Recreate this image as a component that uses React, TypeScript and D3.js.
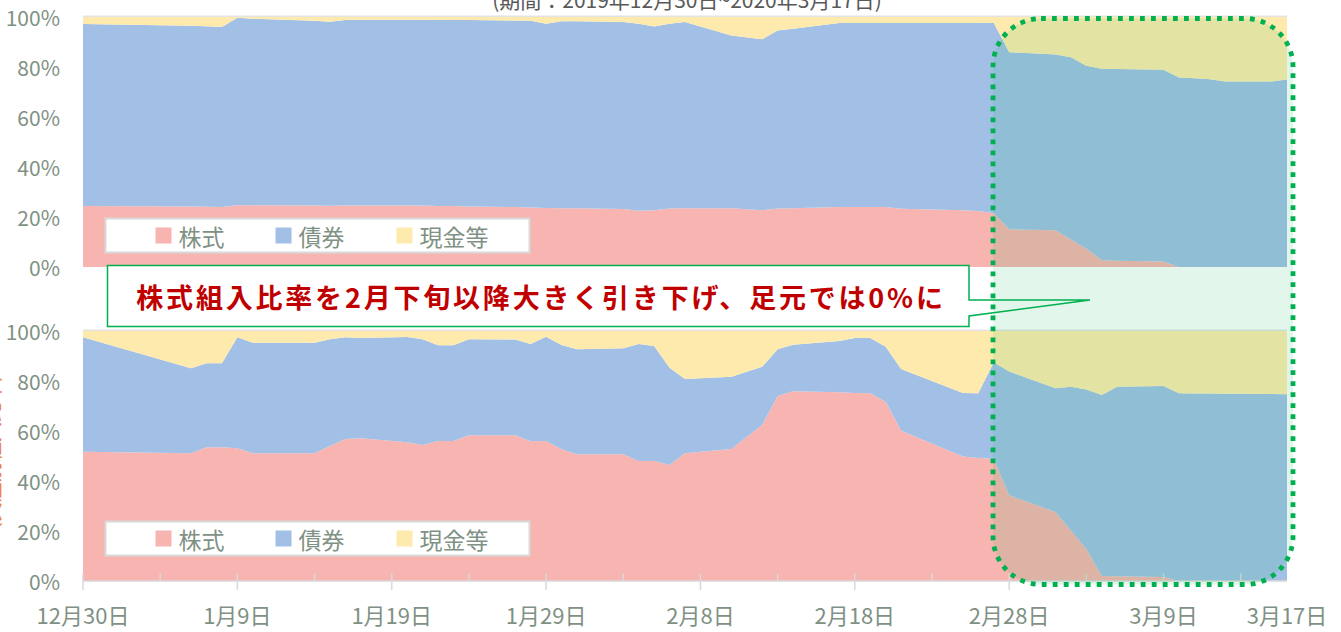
import * as React from "react";
import * as d3 from "d3";

// 営業日（データ時点）
const DATES = [
  "2019-12-30", "2020-01-06", "2020-01-07", "2020-01-08", "2020-01-09", "2020-01-10",
  "2020-01-14", "2020-01-15", "2020-01-16", "2020-01-17", "2020-01-20", "2020-01-21",
  "2020-01-22", "2020-01-23", "2020-01-24", "2020-01-27", "2020-01-28", "2020-01-29",
  "2020-01-30", "2020-01-31", "2020-02-03", "2020-02-04", "2020-02-05", "2020-02-06",
  "2020-02-07", "2020-02-10", "2020-02-12", "2020-02-13", "2020-02-14", "2020-02-17",
  "2020-02-18", "2020-02-19", "2020-02-20", "2020-02-21", "2020-02-25", "2020-02-26",
  "2020-02-27", "2020-02-28", "2020-03-02", "2020-03-03", "2020-03-04", "2020-03-05",
  "2020-03-06", "2020-03-09", "2020-03-10", "2020-03-11", "2020-03-12", "2020-03-13",
  "2020-03-16", "2020-03-17",
];

const KEYS = ["株式", "債券", "現金等"];
const COLORS = ["#F8B4B0", "#A2C0E5", "#FFEAAE"];

// 上段
const TOP_STOCK = [
  24.4, 24.2, 24.1, 24.0, 24.7, 24.7, 24.6, 24.5, 24.6, 24.6, 24.6, 24.6,
  24.4, 24.4, 24.2, 24.0, 23.8, 23.6, 23.5, 23.5, 23.2, 22.5, 22.7, 23.4,
  23.5, 23.5, 22.7, 23.4, 23.5, 24.0, 24.0, 24.0, 24.0, 23.3, 22.7, 22.4,
  21.5, 15.1, 14.7, 11.0, 7.3, 2.7, 2.5, 2.2, 0, 0, 0, 0, 0, 0,
];
const TOP_BOND = [
  72.8, 72.3, 72.2, 72.0, 75.0, 74.6, 73.9, 73.6, 74.2, 74.3, 74.3, 74.3,
  74.4, 74.4, 74.6, 74.6, 74.7, 73.7, 74.8, 74.8, 74.8, 74.8, 73.5, 73.9,
  74.5, 69.1, 68.4, 71.2, 71.8, 73.6, 73.6, 73.6, 73.6, 74.3, 74.9, 75.2,
  76.2, 70.8, 70.3, 72.9, 73.2, 76.6, 76.7, 76.7, 75.8, 75.5, 75.1, 74.2, 74.2, 75.0,
];
const TOP_CASH = [
  2.8, 3.5, 3.7, 4.0, 0.3, 0.7, 1.5, 1.9, 1.2, 1.1, 1.1, 1.1,
  1.2, 1.2, 1.2, 1.4, 1.5, 2.7, 1.7, 1.7, 2.0, 2.7, 3.8, 2.7,
  2.0, 7.4, 8.9, 5.4, 4.7, 2.4, 2.4, 2.4, 2.4, 2.4, 2.4, 2.4,
  2.3, 14.1, 15.0, 16.1, 19.5, 20.7, 20.8, 21.1, 24.2, 24.5, 24.9, 25.8, 25.8, 25.0,
];

// 下段
const BOTTOM_STOCK = [
  51.7, 51.1, 53.5, 53.5, 53.1, 51.1, 51.1, 54.0, 56.8, 57.1, 55.5, 54.4,
  56.0, 56.0, 58.3, 58.3, 55.9, 56.0, 52.7, 50.7, 50.7, 48.0, 48.0, 46.4,
  51.1, 52.8, 62.4, 74.0, 75.9, 75.5, 75.2, 75.1, 71.7, 60.1, 49.8, 49.2,
  48.9, 34.3, 27.6, 20.2, 12.8, 2.0, 1.9, 1.6, 0, 0, 0, 0, 0, 0,
];
const BOTTOM_BOND = [
  45.8, 34.0, 33.6, 33.6, 44.4, 44.2, 44.2, 42.7, 40.7, 40.1, 42.1, 42.3,
  38.3, 38.3, 38.4, 38.3, 38.9, 41.7, 41.7, 42.0, 42.4, 46.8, 46.0, 38.9,
  29.7, 28.9, 23.3, 18.7, 18.6, 20.5, 22.0, 22.1, 22.0, 24.7, 25.4, 25.9,
  38.6, 49.5, 49.5, 57.5, 63.8, 72.4, 75.8, 76.4, 75.1, 75.0, 75.0, 74.9, 74.8, 74.7,
];
const BOTTOM_CASH = [
  2.5, 14.9, 12.9, 12.9, 2.5, 4.7, 4.7, 3.3, 2.5, 2.8, 2.4, 3.3,
  5.7, 5.7, 3.3, 3.4, 5.2, 2.3, 5.6, 7.3, 6.9, 5.2, 6.0, 14.7,
  19.2, 18.3, 14.3, 7.3, 5.5, 4.0, 2.8, 2.8, 6.3, 15.2, 24.8, 24.9,
  12.5, 16.2, 22.9, 22.3, 23.4, 25.6, 22.3, 22.0, 24.9, 25.0, 25.0, 25.1, 25.2, 25.3,
];

const Y_TICKS = [0, 20, 40, 60, 80, 100];
const TITLE = "(期間：2019年12月30日~2020年3月17日)";
const NOTE = "株式組入比率を2月下旬以降大きく引き下げ、足元では0%に";
const SIDE_LABEL = "（資産別組入比率）";

const W = 1341;
const H = 632;
const FONT = "'Noto Sans CJK JP', 'Noto Sans', sans-serif";
const AXIS_COLOR = "#7F9184";

const parse = d3.utcParse("%Y-%m-%d");
const start = parse(DATES[0]) as Date;
const end = parse(DATES[DATES.length - 1]) as Date;
const x = d3.scaleUtc().domain([start, end]).range([83, 1287]);
const fmt = d3.utcFormat("%-m月%-d日");

type Row = { date: Date; [k: string]: any };

function Panel({ stock, bond, cash, top, bottom }: { stock: number[]; bond: number[]; cash: number[]; top: number; bottom: number }) {
  const y = d3.scaleLinear().domain([0, 100]).range([bottom, top]);
  const rows: Row[] = DATES.map((d, i) => ({
    date: parse(d) as Date,
    株式: stock[i],
    債券: bond[i],
    現金等: cash[i],
  }));
  const series = d3.stack<Row>().keys(KEYS)(rows);
  const area = d3
    .area<any>()
    .x((d) => x(d.data.date))
    .y0((d) => y(d[0]))
    .y1((d) => y(d[1]));
  return (
    <g>
      {series.map((s, i) => (
        <path key={s.key} d={area(s) || ""} fill={COLORS[i]} />
      ))}
      <line x1={83} x2={1287} y1={y(100) - 0.75} y2={y(100) - 0.75} stroke="#E3E3E3" strokeWidth={1.5} />
      {Y_TICKS.map((t) => (
        <text key={t} x={60} y={y(t)} textAnchor="end" dominantBaseline="central" fontSize={21} fill={AXIS_COLOR}>
          {t}%
        </text>
      ))}
    </g>
  );
}

function Legend({ top }: { top: number }) {
  const cy = top + 17;
  const items = [155.5, 275.5, 396.5];
  return (
    <g>
      <rect x={105.5} y={top} width={424} height={34} fill="#fff" stroke="#D9D9D9" strokeWidth={2} />
      {KEYS.map((k, i) => (
        <g key={k}>
          <rect x={items[i]} y={cy - 8} width={16} height={16} fill={COLORS[i]} />
          <text x={items[i] + 23} y={cy} dominantBaseline="central" fontSize={23} fill={AXIS_COLOR}>
            {k}
          </text>
        </g>
      ))}
    </g>
  );
}

export default function App() {
  const ticks = d3.utcDay.range(start, end, 5);
  const labels = ticks.filter((_, i) => i % 2 === 0).concat([end]);
  const axisY = 581;
  return (
    <svg width={W} height={H} style={{ position: "absolute", left: 0, top: 0, fontFamily: FONT }}>
      <rect width={W} height={H} fill="#fff" />
      <text x={687} y={8} textAnchor="middle" fontSize={21} fill="#595959">
        {TITLE}
      </text>
      <text
        transform={`translate(0,452) rotate(-90)`}
        textAnchor="middle"
        fontSize={20}
        fill="#ED7D31"
      >
        {SIDE_LABEL}
      </text>
      <Panel stock={TOP_STOCK} bond={TOP_BOND} cash={TOP_CASH} top={17} bottom={267} />
      <Panel stock={BOTTOM_STOCK} bond={BOTTOM_BOND} cash={BOTTOM_CASH} top={331} bottom={581} />

      <line x1={83} x2={1287} y1={axisY} y2={axisY} stroke="#D9D9D9" strokeWidth={1.5} />
      {ticks.map((t, i) => (
        <line
          key={i}
          x1={x(t)}
          x2={x(t)}
          y1={axisY - 7.5}
          y2={i % 2 === 0 ? axisY + 9 : axisY}
          stroke="#D9D9D9"
          strokeWidth={1.5}
        />
      ))}
      {labels.map((t, i) => (
        <text key={i} x={x(t)} y={614} textAnchor="middle" dominantBaseline="central" fontSize={22} fill={AXIS_COLOR}>
          {fmt(t)}
        </text>
      ))}

      <Legend top={218.5} />
      <Legend top={521.5} />

      <path
        d="M107.5,265.5 H969 V300 L1090,300 L969,316 V326.5 H107.5 Z"
        fill="#fff"
        stroke="#00B050"
        strokeWidth={1.5}
      />
      <text
        x={541}
        y={296}
        textAnchor="middle"
        dominantBaseline="central"
        fontSize={27}
        fontWeight="bold"
        letterSpacing={2.8}
        fill="#C00000"
      >
        {NOTE}
      </text>

      <rect x={993} y={18.5} width={300} height={566} rx={48} fill="rgba(0,176,80,0.11)" />
      <rect
        x={993}
        y={18.5}
        width={300}
        height={566}
        rx={48}
        fill="none"
        stroke="#00B050"
        strokeWidth={4.8}
        strokeDasharray="4.8 6.2"
      />
    </svg>
  );
}
